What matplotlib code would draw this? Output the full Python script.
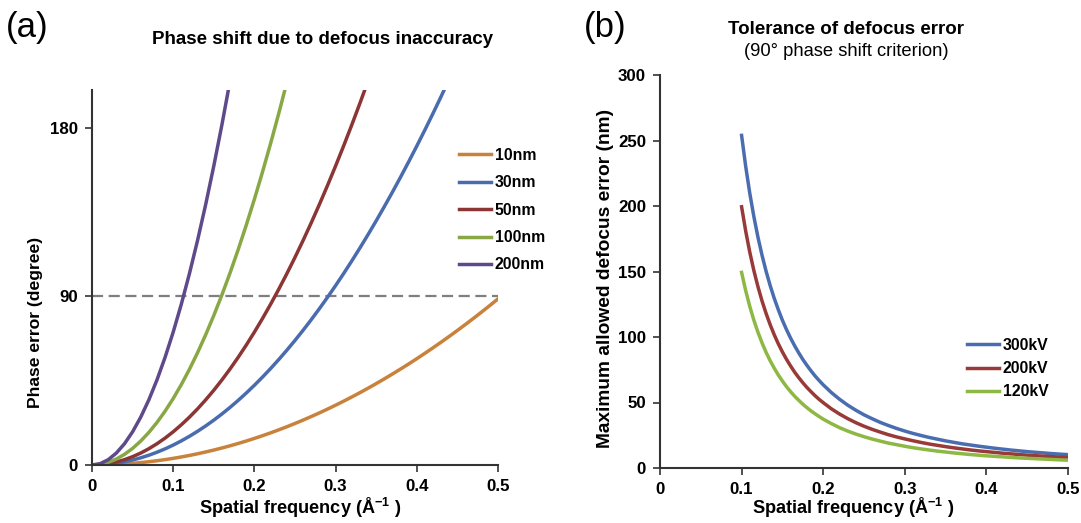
import matplotlib
matplotlib.use("Agg")
import matplotlib.pyplot as plt

plt.rcParams['font.family'] = ['Liberation Sans', 'DejaVu Sans']
plt.rcParams['mathtext.fontset'] = 'custom'
plt.rcParams['mathtext.rm'] = 'Liberation Sans'
plt.rcParams['mathtext.bf'] = 'Liberation Sans:bold'

# ---------------- Panel (a) data: phase error (degree) vs spatial frequency ----------------
freq_a = [0.00, 0.01, 0.02, 0.03, 0.04, 0.05, 0.06, 0.07, 0.08, 0.09,
          0.10, 0.11, 0.12, 0.13, 0.14, 0.15, 0.16, 0.17, 0.18, 0.19,
          0.20, 0.21, 0.22, 0.23, 0.24, 0.25, 0.26, 0.27, 0.28, 0.29,
          0.30, 0.31, 0.32, 0.33, 0.34, 0.35, 0.36, 0.37, 0.38, 0.39,
          0.40, 0.41, 0.42, 0.43, 0.44, 0.45, 0.46, 0.47, 0.48, 0.49, 0.50]

phase_10nm = [0, 0.04, 0.14, 0.32, 0.57, 0.89, 1.28, 1.74, 2.27, 2.87,
              3.54, 4.29, 5.10, 5.99, 6.95, 7.97, 9.07, 10.24, 11.48, 12.79,
              14.18, 15.63, 17.15, 18.75, 20.41, 22.15, 23.96, 25.84, 27.78, 29.81,
              31.90, 34.06, 36.29, 38.59, 40.97, 43.41, 45.93, 48.52, 51.18, 53.90,
              56.70, 59.58, 62.52, 65.53, 68.61, 71.77, 74.99, 78.29, 81.65, 85.09, 88.60]
phase_30nm = [0, 0.11, 0.43, 0.96, 1.70, 2.66, 3.83, 5.21, 6.81, 8.61,
              10.63, 12.87, 15.31, 17.97, 20.84, 23.92, 27.22, 30.73, 34.45, 38.38,
              42.53, 46.89, 51.46, 56.25, 61.25, 66.46, 71.88, 77.51, 83.36, 89.42,
              95.70, 102.18, 108.88, 115.79, 122.91, 130.25, 137.80, 145.56, 153.54, 161.73,
              170.13, 178.74, 187.56, 196.60, 205.86]
phase_50nm = [0, 0.18, 0.71, 1.59, 2.84, 4.43, 6.38, 8.68, 11.34, 14.35,
              17.72, 21.44, 25.52, 29.95, 34.74, 39.87, 45.37, 51.22, 57.42, 63.98,
              70.89, 78.15, 85.77, 93.75, 102.08, 110.76, 119.80, 129.19, 138.94, 149.04,
              159.50, 170.31, 181.47, 192.99, 204.87]
phase_100nm = [0, 0.35, 1.42, 3.19, 5.67, 8.86, 12.76, 17.37, 22.68, 28.71,
               35.44, 42.89, 51.04, 59.90, 69.47, 79.75, 90.74, 102.43, 114.84, 127.95,
               141.78, 156.31, 171.55, 187.50, 204.16]
phase_200nm = [0, 0.71, 2.84, 6.38, 11.34, 17.72, 25.52, 34.73, 45.37, 57.42,
               70.89, 85.77, 102.08, 119.80, 138.94, 159.50, 181.47, 204.86]

labels_a = ['10nm', '30nm', '50nm', '100nm', '200nm']
colors_a = ['#C9823B', '#4A6CAF', '#8B3634', '#89A845', '#5E4A8B']
series_a = [phase_10nm, phase_30nm, phase_50nm, phase_100nm, phase_200nm]

# ---------------- Panel (b) data: max allowed defocus error (nm) ----------------
freq_b = [0.100, 0.105, 0.110, 0.115, 0.120, 0.125, 0.130, 0.135, 0.140, 0.145,
          0.150, 0.155, 0.160, 0.165, 0.170, 0.175, 0.180, 0.185, 0.190, 0.195,
          0.200, 0.21, 0.22, 0.23, 0.24, 0.25, 0.26, 0.27, 0.28, 0.29,
          0.30, 0.31, 0.32, 0.33, 0.34, 0.35, 0.36, 0.37, 0.38, 0.39,
          0.40, 0.41, 0.42, 0.43, 0.44, 0.45, 0.46, 0.47, 0.48, 0.49, 0.50]
tol_300kV = [253.9, 230.3, 209.8, 192.0, 176.3, 162.5, 150.2, 139.3, 129.5, 120.8,
             112.8, 105.7, 99.2, 93.3, 87.9, 82.9, 78.4, 74.2, 70.3, 66.8,
             63.5, 57.6, 52.5, 48.0, 44.1, 40.6, 37.6, 34.8, 32.4, 30.2,
             28.2, 26.4, 24.8, 23.3, 22.0, 20.7, 19.6, 18.5, 17.6, 16.7,
             15.9, 15.1, 14.4, 13.7, 13.1, 12.5, 12.0, 11.5, 11.0, 10.6, 10.2]
tol_200kV = [199.4, 180.9, 164.8, 150.8, 138.5, 127.6, 118.0, 109.4, 101.7, 94.8,
             88.6, 83.0, 77.9, 73.2, 69.0, 65.1, 61.5, 58.3, 55.2, 52.4,
             49.9, 45.2, 41.2, 37.7, 34.6, 31.9, 29.5, 27.4, 25.4, 23.7,
             22.2, 20.8, 19.5, 18.3, 17.3, 16.3, 15.4, 14.6, 13.8, 13.1,
             12.5, 11.9, 11.3, 10.8, 10.3, 9.8, 9.4, 9.0, 8.7, 8.3, 8.0]
tol_120kV = [149.3, 135.4, 123.4, 112.9, 103.7, 95.6, 88.3, 81.9, 76.2, 71.0,
             66.4, 62.1, 58.3, 54.8, 51.7, 48.7, 46.1, 43.6, 41.4, 39.3,
             37.3, 33.9, 30.8, 28.2, 25.9, 23.9, 22.1, 20.5, 19.0, 17.8,
             16.6, 15.5, 14.6, 13.7, 12.9, 12.2, 11.5, 10.9, 10.3, 9.8,
             9.3, 8.9, 8.5, 8.1, 7.7, 7.4, 7.1, 6.8, 6.5, 6.2, 6.0]

labels_b = ['300kV', '200kV', '120kV']
colors_b = ['#4A6DB0', '#983A38', '#8DB843']
series_b = [tol_300kV, tol_200kV, tol_120kV]

xticks = [0, 0.1, 0.2, 0.3, 0.4, 0.5]
xticklabels = ['0', '0.1', '0.2', '0.3', '0.4', '0.5']
yticks_a = [0, 90, 180]
yticks_b = [0, 50, 100, 150, 200, 250, 300]

W, H = 1081, 523
spine_c = '#333333'
tick_fs = 12.2
xlab_fs = 13.1
title_fs = 13.5
leg_fs = 11.4
xlabel_text = 'Spatial frequency (Å$^{\\mathbf{-1}}$ )'

fig = plt.figure(figsize=(W / 100, H / 100), dpi=100)

def style(ax):
    for s in ['top', 'right']:
        ax.spines[s].set_visible(False)
    for s in ['left', 'bottom']:
        ax.spines[s].set_color(spine_c)
        ax.spines[s].set_linewidth(1.5)
    ax.tick_params(direction='out', length=5, width=1.2, color=spine_c,
                   labelsize=tick_fs, pad=5)
    for t in ax.get_xticklabels() + ax.get_yticklabels():
        t.set_fontweight('bold')

# ---- (a)
a_left, a_right, a_bottom, a_top = 92, 498, 465, 90
axa = fig.add_axes([a_left / W, 1 - a_bottom / H, (a_right - a_left) / W, (a_bottom - a_top) / H])
axa.axhline(90, color='#7F7F7F', lw=1.6, dashes=(5, 2.5), zorder=1)
for vals, lab, c in zip(series_a, labels_a, colors_a):
    axa.plot(freq_a[:len(vals)], vals, color=c, lw=2.5, label=lab)
axa.set_xlim(0, 0.5)
axa.set_ylim(0, 200)
axa.set_xticks(xticks)
axa.set_xticklabels(xticklabels)
axa.set_yticks(yticks_a)
style(axa)
axa.set_xlabel(xlabel_text, fontsize=xlab_fs, fontweight='bold')
axa.xaxis.label.set_va('center')
axa.xaxis.set_label_coords((300 - a_left) / (a_right - a_left), (a_bottom - 508) / (a_bottom - a_top))
axa.set_ylabel('Phase error (degree)', fontsize=12.6, fontweight='bold')
axa.yaxis.label.set_va('center')
axa.yaxis.set_label_coords((36 - a_left) / (a_right - a_left), (a_bottom - 322) / (a_bottom - a_top))
fig.text(323 / W, 1 - 40 / H, 'Phase shift due to defocus inaccuracy', fontsize=title_fs,
         fontweight='bold', ha='center', va='center')
axa.legend(loc='upper left', bbox_to_anchor=(459 / W, 1 - 148 / H),
           bbox_transform=fig.transFigure, frameon=False, borderpad=0, borderaxespad=0,
           handlelength=2.05, handletextpad=0.2, labelspacing=0.78,
           prop={'weight': 'bold', 'size': leg_fs})

# ---- (b)
b_left, b_right, b_bottom, b_top = 660, 1068, 468, 75
axb = fig.add_axes([b_left / W, 1 - b_bottom / H, (b_right - b_left) / W, (b_bottom - b_top) / H])
for vals, lab, c in zip(series_b, labels_b, colors_b):
    axb.plot(freq_b, vals, color=c, lw=2.5, label=lab)
axb.set_xlim(0, 0.5)
axb.set_ylim(0, 300)
axb.set_xticks(xticks)
axb.set_xticklabels(xticklabels)
axb.set_yticks(yticks_b)
style(axb)
axb.set_xlabel(xlabel_text, fontsize=xlab_fs, fontweight='bold')
axb.xaxis.label.set_va('center')
axb.xaxis.set_label_coords((853 - b_left) / (b_right - b_left), (b_bottom - 508) / (b_bottom - b_top))
axb.set_ylabel('Maximum allowed defocus error (nm)', fontsize=13.8, fontweight='bold')
axb.yaxis.label.set_va('center')
axb.yaxis.set_label_coords((605 - b_left) / (b_right - b_left), (b_bottom - 278) / (b_bottom - b_top))
axb.legend(loc='upper left', bbox_to_anchor=(967 / W, 1 - 338 / H),
           bbox_transform=fig.transFigure, frameon=False, borderpad=0, borderaxespad=0,
           handlelength=2.05, handletextpad=0.2, labelspacing=0.52,
           prop={'weight': 'bold', 'size': leg_fs})

fig.text(846 / W, 1 - 29 / H, 'Tolerance of defocus error', fontsize=title_fs,
         fontweight='bold', ha='center', va='center')
fig.text(846 / W, 1 - 51 / H, '(90° phase shift criterion)', fontsize=13.2,
         ha='center', va='center')

fig.text(6 / W, 1 - 27 / H, '(a)', fontsize=25, ha='left', va='center')
fig.text(584 / W, 1 - 27 / H, '(b)', fontsize=25, ha='left', va='center')

fig.savefig('out.png', dpi=100)
